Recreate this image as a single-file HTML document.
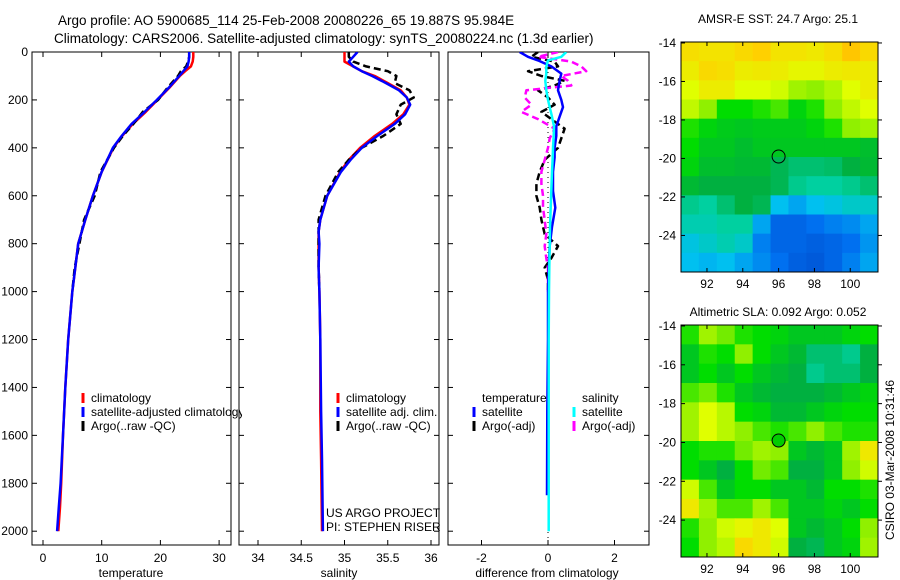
<!DOCTYPE html>
<html><head><meta charset="utf-8">
<style>
body{margin:0;background:#fff;}
svg{display:block;font-family:"Liberation Sans",sans-serif;}
text{fill:#000;}
</style></head>
<body>
<svg id="fig" width="900" height="580" viewBox="0 0 900 580" xmlns="http://www.w3.org/2000/svg">
<rect width="900" height="580" fill="#fff"/>
<text x="58" y="25" font-size="13.5">Argo profile: AO 5900685_114 25-Feb-2008 20080226_65 19.887S 95.984E</text>
<text x="54" y="43" font-size="13.5">Climatology: CARS2006. Satellite-adjusted climatology: synTS_20080224.nc (1.3d earlier)</text>
<defs>
<clipPath id="c1"><rect x="32" y="52" width="199" height="493"/></clipPath>
<clipPath id="c2"><rect x="239" y="52" width="200" height="493"/></clipPath>
<clipPath id="c3"><rect x="448" y="52" width="201" height="493"/></clipPath>
<clipPath id="c1leg"><rect x="32" y="52" width="210" height="493"/></clipPath>
</defs>
<g id="layer"></g>
<text x="778" y="23" font-size="12" text-anchor="middle">AMSR-E SST: 24.7 Argo: 25.1</text>
<text x="778" y="316" font-size="12" text-anchor="middle">Altimetric SLA: 0.092 Argo: 0.052</text>
<text x="0" y="0" font-size="12" text-anchor="middle" transform="translate(894,460) rotate(-90)">CSIRO 03-Mar-2008 10:31:46</text>
<text x="326" y="517" font-size="12">US ARGO PROJECT</text>
<text x="326" y="531" font-size="12">PI: STEPHEN RISER</text>
</svg>
<script>
// ---------- data ----------
const tDepth = [0,20,40,60,80,100,150,200,250,300,350,400,500,600,700,800,900,1000,1200,1400,1600,1800,1900,2000];
const tClim  = [25.6,25.6,25.5,25.2,24.2,23.3,21.5,19.5,17.5,15.3,13.5,12,10,8.5,7.2,6,5.5,5,4.3,3.8,3.4,3.1,2.9,2.6];
const tSat   = [24.9,24.9,24.8,24.6,23.9,23.2,21.4,19.4,17.3,15.1,13.4,11.9,10,8.5,7.2,6,5.5,5,4.3,3.8,3.4,3.0,2.7,2.4];
const tArgoDepth = [0,20,40,60,80,100,150,200,250,300,350,400,500,600,700,800,900,1000];
const tArgo  = [24.9,24.9,24.7,24.4,23.5,23.0,21.2,19.6,17.0,15.4,13.6,12.1,9.8,8.8,7.0,6.2,5.4,5.0];

const sDepth = [0,20,40,60,80,100,130,160,190,220,260,300,350,400,450,500,600,700,750,800,900,1000,1200,1500,1700,2000];
const sClim  = [35.0,35.0,35.0,35.1,35.2,35.35,35.5,35.65,35.72,35.75,35.68,35.55,35.35,35.18,35.05,34.95,34.8,34.72,34.7,34.7,34.7,34.71,34.72,34.72,34.73,34.74];
const sSat   = [35.15,35.1,35.05,35.1,35.2,35.32,35.48,35.63,35.72,35.76,35.7,35.58,35.38,35.2,35.07,34.96,34.8,34.72,34.7,34.71,34.7,34.71,34.72,34.73,34.74,34.75];
const sArgoDepth = [0,20,40,60,80,100,130,160,190,220,260,300,350,400,450,500,600,700,800,900,1000];
const sArgo  = [35.05,35.05,35.1,35.25,35.5,35.6,35.58,35.75,35.8,35.65,35.6,35.65,35.45,35.2,35.05,34.93,34.78,34.7,34.7,34.7,34.71];

const dDepth    = [0,20,35,60,90,120,160,200,230,270,310,350,400,440,500,580,650,730,810,900,1000,1200,1500,1850];
const dTempSat  = [-0.85,-0.6,-0.3,0.1,0.4,0.35,0.3,0.4,0.45,0.35,0.25,0.25,0.2,0.2,0.15,0.15,0.22,0.12,0.05,0.02,0.0,0.0,-0.02,-0.03];
const dSalSat   = [0.55,0.4,0.0,-0.05,-0.05,-0.08,-0.05,0.0,0.05,0.12,0.18,0.17,0.15,0.14,0.12,0.1,0.08,0.06,0.05,0.04,0.03,0.02,0.02,0.02];
const daDepth   = [0,20,40,60,80,100,120,140,160,190,220,250,280,320,360,400,450,500,550,600,650,700,760,810,860,900,950,1000];
const dTempArgo = [-0.3,-0.5,0.2,0.3,-0.6,-0.2,0.5,0.2,-0.3,0.0,0.2,-0.2,0.1,0.5,0.4,0.3,-0.1,-0.25,-0.35,-0.35,-0.25,-0.2,-0.1,0.3,0.1,-0.1,0.0,0.0];
const dSalArgo  = [0.3,-0.3,0.7,1.0,1.15,0.4,0.6,0.7,-0.65,-0.7,-0.5,-0.8,-0.3,0.2,0.05,0.0,-0.1,-0.2,-0.2,-0.15,-0.15,-0.1,-0.05,-0.1,-0.05,0.0,0.0,0.0];

const depthTicks = [0,200,400,600,800,1000,1200,1400,1600,1800,2000];
const tTicks = [0,10,20,30];
const sTicks = [34,34.5,35,35.5,36];
const dTicks = [-2,0,2];

const lonTicks = [92,94,96,98,100];
const latTicks = [-14,-16,-18,-20,-22,-24];
const sstGrid = [
[0.87,0.86,0.86,0.88,0.9,0.86,0.86,0.85,0.87,0.92,0.88],
[0.84,0.88,0.87,0.84,0.85,0.84,0.82,0.82,0.84,0.85,0.84],
[0.8,0.84,0.84,0.8,0.8,0.78,0.72,0.7,0.74,0.8,0.84],
[0.76,0.7,0.6,0.6,0.62,0.65,0.58,0.62,0.7,0.76,0.8],
[0.62,0.58,0.56,0.55,0.56,0.56,0.56,0.58,0.62,0.7,0.72],
[0.6,0.55,0.55,0.53,0.55,0.55,0.55,0.55,0.55,0.55,0.53],
[0.58,0.53,0.53,0.52,0.52,0.48,0.45,0.45,0.46,0.5,0.52],
[0.52,0.5,0.5,0.5,0.5,0.48,0.42,0.4,0.4,0.42,0.45],
[0.42,0.4,0.45,0.5,0.48,0.3,0.25,0.3,0.32,0.35,0.35],
[0.38,0.38,0.4,0.4,0.25,0.12,0.12,0.15,0.18,0.2,0.25],
[0.32,0.35,0.38,0.35,0.18,0.12,0.12,0.1,0.12,0.15,0.22],
[0.3,0.28,0.3,0.25,0.2,0.15,0.1,0.08,0.12,0.18,0.25]];
const slaGrid = [
[0.62,0.72,0.68,0.62,0.6,0.58,0.55,0.55,0.55,0.58,0.6],
[0.55,0.62,0.6,0.7,0.6,0.55,0.52,0.45,0.45,0.42,0.5],
[0.55,0.6,0.55,0.6,0.55,0.52,0.5,0.42,0.45,0.45,0.5],
[0.65,0.68,0.62,0.55,0.52,0.5,0.5,0.5,0.52,0.55,0.58],
[0.72,0.8,0.75,0.6,0.58,0.52,0.52,0.55,0.58,0.6,0.6],
[0.72,0.8,0.75,0.7,0.65,0.62,0.65,0.7,0.65,0.62,0.62],
[0.6,0.62,0.62,0.68,0.72,0.7,0.55,0.52,0.55,0.72,0.85],
[0.6,0.55,0.5,0.6,0.68,0.65,0.5,0.5,0.55,0.7,0.78],
[0.78,0.65,0.55,0.6,0.6,0.55,0.55,0.52,0.6,0.6,0.62],
[0.85,0.72,0.65,0.65,0.72,0.65,0.55,0.55,0.58,0.55,0.6],
[0.62,0.7,0.78,0.82,0.85,0.8,0.55,0.52,0.55,0.6,0.7],
[0.6,0.7,0.75,0.88,0.85,0.78,0.5,0.48,0.55,0.58,0.72]];
const floatLon = 96.0, floatLat = -19.9;

// ---------- helpers ----------
const NS = "http://www.w3.org/2000/svg";
const layer = document.getElementById('layer');
function mk(tag, attrs, parent){ const e=document.createElementNS(NS,tag); for(const k in attrs) e.setAttribute(k,attrs[k]); (parent||layer).appendChild(e); return e; }
const yD = d => 52 + 0.2396*d;
const xT = v => 43 + 5.87*v;
const xS = v => 258 + 86.5*(v-34);
const xDf = v => 548 + 33.25*v;

function axesBox(x0,x1,name,ticksX,fx,showY){
  const r = mk('rect',{x:x0,y:52,width:x1-x0,height:493,fill:'none',stroke:'#000','stroke-width':1});
  
  
  ticksX.forEach(t=>{
    const x=fx(t);
    mk('line',{x1:x,x2:x,y1:545,y2:540,stroke:'#000'});
    mk('line',{x1:x,x2:x,y1:52,y2:57,stroke:'#000'});
    const tx = mk('text',{x:x,y:562,'font-size':12,'text-anchor':'middle'});
    tx.textContent = t;
    
    
  });
  depthTicks.forEach(d=>{
    const y=yD(d);
    mk('line',{x1:x0,x2:x0+5,y1:y,y2:y,stroke:'#000'});
    mk('line',{x1:x1,x2:x1-5,y1:y,y2:y,stroke:'#000'});
    if(showY){
      const tx = mk('text',{x:28,y:y+4,'font-size':12,'text-anchor':'end'});
      tx.textContent = d;
      
      
    }
  });
}
function line(depths, vals, fx, color, dashed, clip, name){
  const pts = depths.map((d,i)=>fx(vals[i]).toFixed(1)+','+yD(d).toFixed(1)).join(' ');
  const p = mk('polyline',{points:pts,fill:'none',stroke:color,'stroke-width':2.5,'clip-path':'url(#'+clip+')','stroke-linejoin':'round'});
  if(dashed) p.setAttribute('stroke-dasharray','7,4');
  
  
}
function legend(x, y, color, label, name){
  if(color){ const m = mk('line',{x1:x,x2:x,y1:y-9,y2:y+1,stroke:color,'stroke-width':3});
    
     }
  const t = mk('text',{x:x+8,y:y,'font-size':12});
  t.textContent = label;
  
  
  return t;
}

// ---------- panel 1 temperature ----------
axesBox(32,231,'temperature-panel',tTicks,xT,true);
line(tDepth,tClim,xT,'#ff0000',false,'c1','temp-climatology-line');
line(tArgoDepth,tArgo,xT,'#000',true,'c1','temp-argo-line');
line(tDepth,tSat,xT,'#0000ff',false,'c1','temp-satellite-line');
let t1 = mk('text',{x:131,y:577,'font-size':12,'text-anchor':'middle'}); t1.textContent='temperature';
 
legend(83,402,'#ff0000','climatology','temp-legend-climatology');
legend(83,416,'#0000ff','satellite-adjusted climatology','temp-legend-satellite').setAttribute('clip-path','url(#c1leg)');
legend(83,430,'#000','Argo(..raw -QC)','temp-legend-argo');

// ---------- panel 2 salinity ----------
axesBox(239,439,'salinity-panel',sTicks,xS,false);
line(sDepth,sClim,xS,'#ff0000',false,'c2','sal-climatology-line');
line(sArgoDepth,sArgo,xS,'#000',true,'c2','sal-argo-line');
line(sDepth,sSat,xS,'#0000ff',false,'c2','sal-satellite-line');
let t2 = mk('text',{x:339,y:577,'font-size':12,'text-anchor':'middle'}); t2.textContent='salinity';
 
legend(338,402,'#ff0000','climatology','sal-legend-climatology');
legend(338,416,'#0000ff','satellite adj. clim.','sal-legend-satellite');
legend(338,430,'#000','Argo(..raw -QC)','sal-legend-argo');

// ---------- panel 3 difference ----------
axesBox(448,649,'difference-panel',dTicks,xDf,false);
const zl = mk('line',{x1:xDf(0),x2:xDf(0),y1:52,y2:545,stroke:'#000','stroke-dasharray':'1,4'});
 
line(daDepth,dTempArgo,xDf,'#000',true,'c3','diff-temp-argo-line');
line(daDepth,dSalArgo,xDf,'#ff00ff',true,'c3','diff-sal-argo-line');
line(dDepth,dTempSat,xDf,'#0000ff',false,'c3','diff-temp-satellite-line');
line(dDepth.concat([2000]),dSalSat.concat([0.02]),xDf,'#00ffff',false,'c3','diff-sal-satellite-line');
let t3 = mk('text',{x:547,y:577,'font-size':12,'text-anchor':'middle'}); t3.textContent='difference from climatology';
 
legend(474,402,null,'temperature','diff-legend-temperature-header');
legend(474,416,'#0000ff','satellite','diff-legend-temp-satellite');
legend(474,430,'#000','Argo(-adj)','diff-legend-temp-argo');
legend(574,402,null,'salinity','diff-legend-salinity-header');
legend(574,416,'#00ffff','satellite','diff-legend-sal-satellite');
legend(574,430,'#ff00ff','Argo(-adj)','diff-legend-sal-argo');

// ---------- maps ----------
const cstops = [[0,[0,64,192]],[0.15,[0,112,240]],[0.3,[0,192,240]],[0.4,[0,208,160]],[0.5,[0,176,64]],[0.6,[0,221,0]],[0.7,[144,240,0]],[0.8,[224,255,0]],[0.9,[255,208,0]],[1,[255,160,0]]];
function cmap(v){
  for(let i=1;i<cstops.length;i++){ if(v<=cstops[i][0]){ const a=cstops[i-1],b=cstops[i],f=(v-a[0])/(b[0]-a[0]);
    return 'rgb('+a[1].map((c,k)=>Math.round(c+(b[1][k]-c)*f)).join(',')+')'; } }
  return 'rgb(255,160,0)';
}
function drawMap(top, bottom, grid, name, filledDot){
  const x0=681, x1=878, lon0=90.55, lon1=101.55, lat0=-13.95, lat1=-25.9;
  const fx = lo => x0 + (lo-lon0)*(x1-x0)/(lon1-lon0);
  const fy = la => top + (la-lat0)*(bottom-top)/(lat1-lat0);
  const g = mk('g',{});
  
  
  const rows=grid.length, cols=grid[0].length;
  grid.forEach((row,r)=>row.forEach((v,c)=>{
    const lo=lon0+c*(lon1-lon0)/cols, la=lat0+r*(lat1-lat0)/rows;
    const cell = mk('rect',{x:fx(lo),y:fy(la),width:(x1-x0)/cols+0.5,height:(bottom-top)/rows+0.5,fill:cmap(v)},g);
    
    
  }));
  mk('rect',{x:x0,y:top,width:x1-x0,height:bottom-top,fill:'none',stroke:'#000'},g);
  lonTicks.forEach(l=>{ const x=fx(l);
    mk('line',{x1:x,x2:x,y1:bottom,y2:bottom-4,stroke:'#000'},g);
    mk('line',{x1:x,x2:x,y1:top,y2:top+4,stroke:'#000'},g);
    const t=mk('text',{x:x,y:bottom+16,'font-size':12,'text-anchor':'middle'},g); t.textContent=l;
      });
  latTicks.forEach(l=>{ const y=fy(l);
    mk('line',{x1:x0,x2:x0+4,y1:y,y2:y,stroke:'#000'},g);
    mk('line',{x1:x1,x2:x1+4,y1:y,y2:y,stroke:'#000'},g);
    const t=mk('text',{x:x0-5,y:y+4,'font-size':12,'text-anchor':'end'},g); t.textContent=l;
      });
  const dot = mk('circle',{cx:fx(floatLon),cy:fy(floatLat),r:6.5,fill:filledDot?'#00cc00':'none',stroke:'#000','stroke-width':1},g);
  
  
}
drawMap(42,272,sstGrid,'sst-map',false);
drawMap(325,557,slaGrid,'sla-map',true);
</script>
</body></html>
